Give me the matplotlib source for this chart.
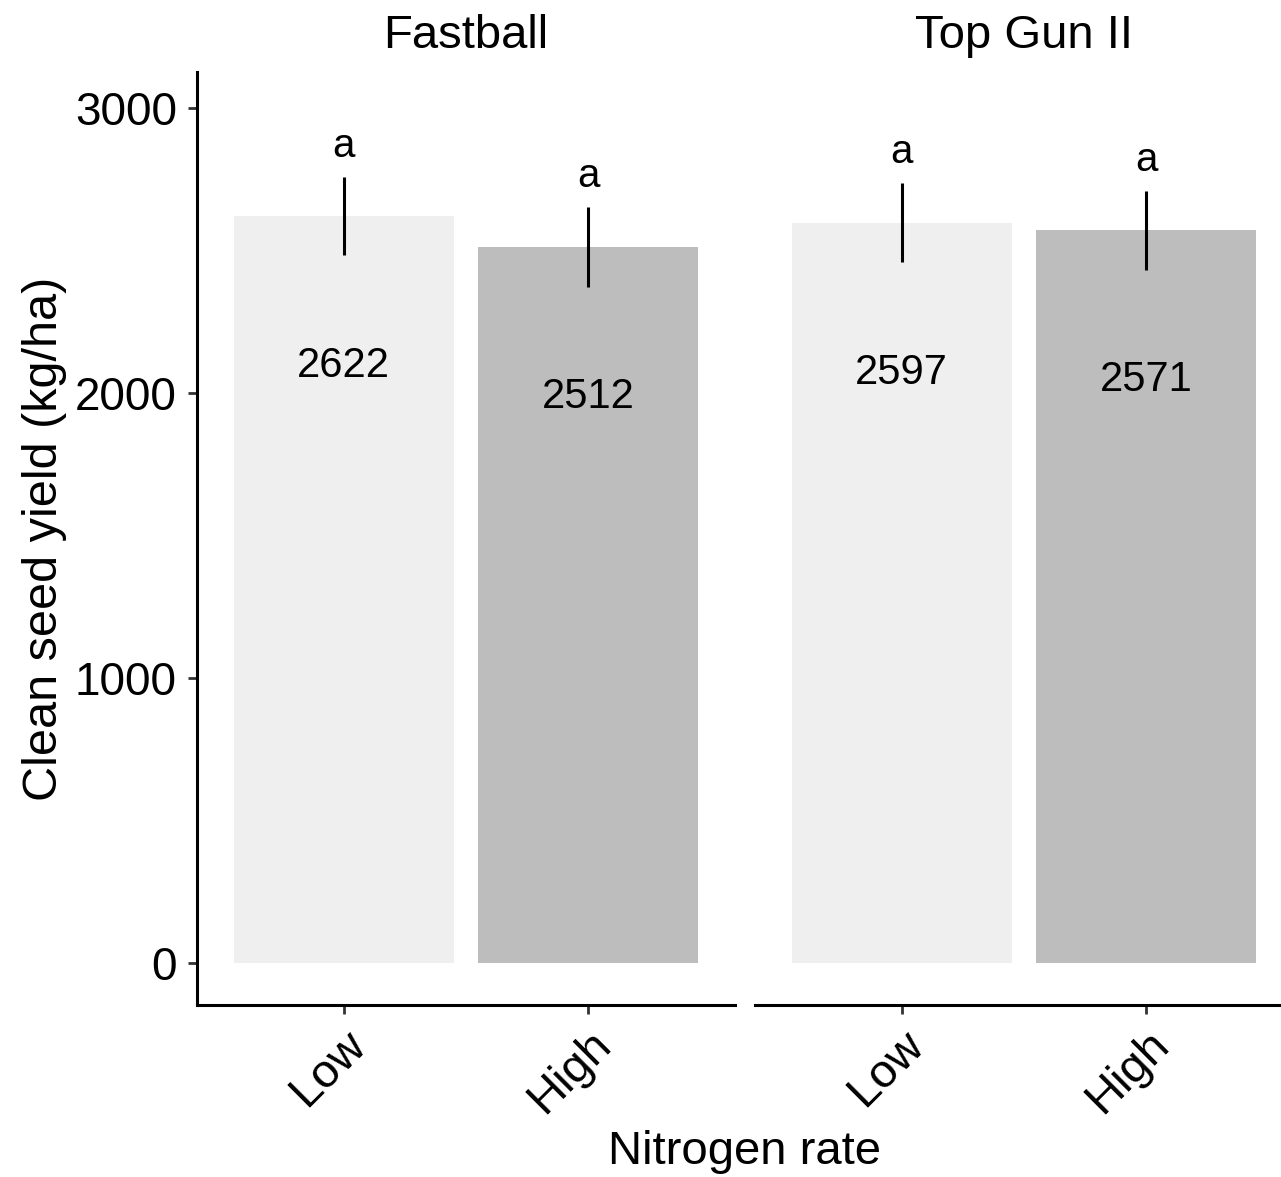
import matplotlib
matplotlib.use('Agg')
import matplotlib.pyplot as plt

plt.rcParams['font.family'] = ['Liberation Sans', 'DejaVu Sans']

cultivars = ['Fastball', 'Top Gun II']
nitrogen = ['Low', 'High']
yield_mean = {'Fastball': [2622, 2512], 'Top Gun II': [2597, 2571]}
yield_err = {'Fastball': [137, 139], 'Top Gun II': [139, 139]}
letters = {'Fastball': ['a', 'a'], 'Top Gun II': ['a', 'a']}
bar_colors = ['#efefef', '#bdbdbd']
yticks = [0, 1000, 2000, 3000]

W, H = 1281, 1177
fig = plt.figure(figsize=(W / 100, H / 100), dpi=100)

left1, right1 = 197, 735
left2 = 755
top, bottom = 72, 1005
pw = right1 - left1

for i, cv in enumerate(cultivars):
    x0 = left1 if i == 0 else left2
    ax = fig.add_axes([x0 / W, (H - bottom) / H, pw / W, (bottom - top) / H])
    xs = list(range(1, len(nitrogen) + 1))
    means = yield_mean[cv]
    errs = yield_err[cv]
    ax.bar(xs, means, width=0.9, color=bar_colors, zorder=1)
    ax.errorbar(xs, means, yerr=errs, fmt='none', ecolor='black',
                elinewidth=2.2, capsize=0, zorder=2)
    for x, m, e, lt in zip(xs, means, errs, letters[cv]):
        ax.text(x, m + e + 70, lt, ha='center', va='baseline', fontsize=29)
        ax.text(x, m - 565, str(m), ha='center', va='baseline', fontsize=30)
    ax.set_xlim(0.4, 2.6)
    ax.set_ylim(-147, 3126)
    ax.set_xticks(xs)
    ax.set_xticklabels(nitrogen, rotation=45, ha='right', va='top',
                       rotation_mode='anchor', fontsize=34)
    ax.set_title(cv, fontsize=34, pad=17)
    for s in ['top', 'right']:
        ax.spines[s].set_visible(False)
    ax.spines['bottom'].set_linewidth(2.2)
    ax.spines['left'].set_linewidth(2.2)
    ax.tick_params(axis='both', length=6.5, width=2, color='#333333',
                   labelsize=33, pad=8)
    ax.tick_params(axis='x', labelsize=34, pad=6)
    if i == 0:
        ax.set_yticks(yticks)
        ax.set_ylabel('Clean seed yield (kg/ha)', fontsize=35, labelpad=6)
    else:
        ax.spines['left'].set_visible(False)
        ax.set_yticks([])

fig.text((left1 + left2 + pw) / 2 / W, 1 - 1152 / H, 'Nitrogen rate',
         ha='center', va='center', fontsize=34)

fig.savefig('out.png', dpi=100)
